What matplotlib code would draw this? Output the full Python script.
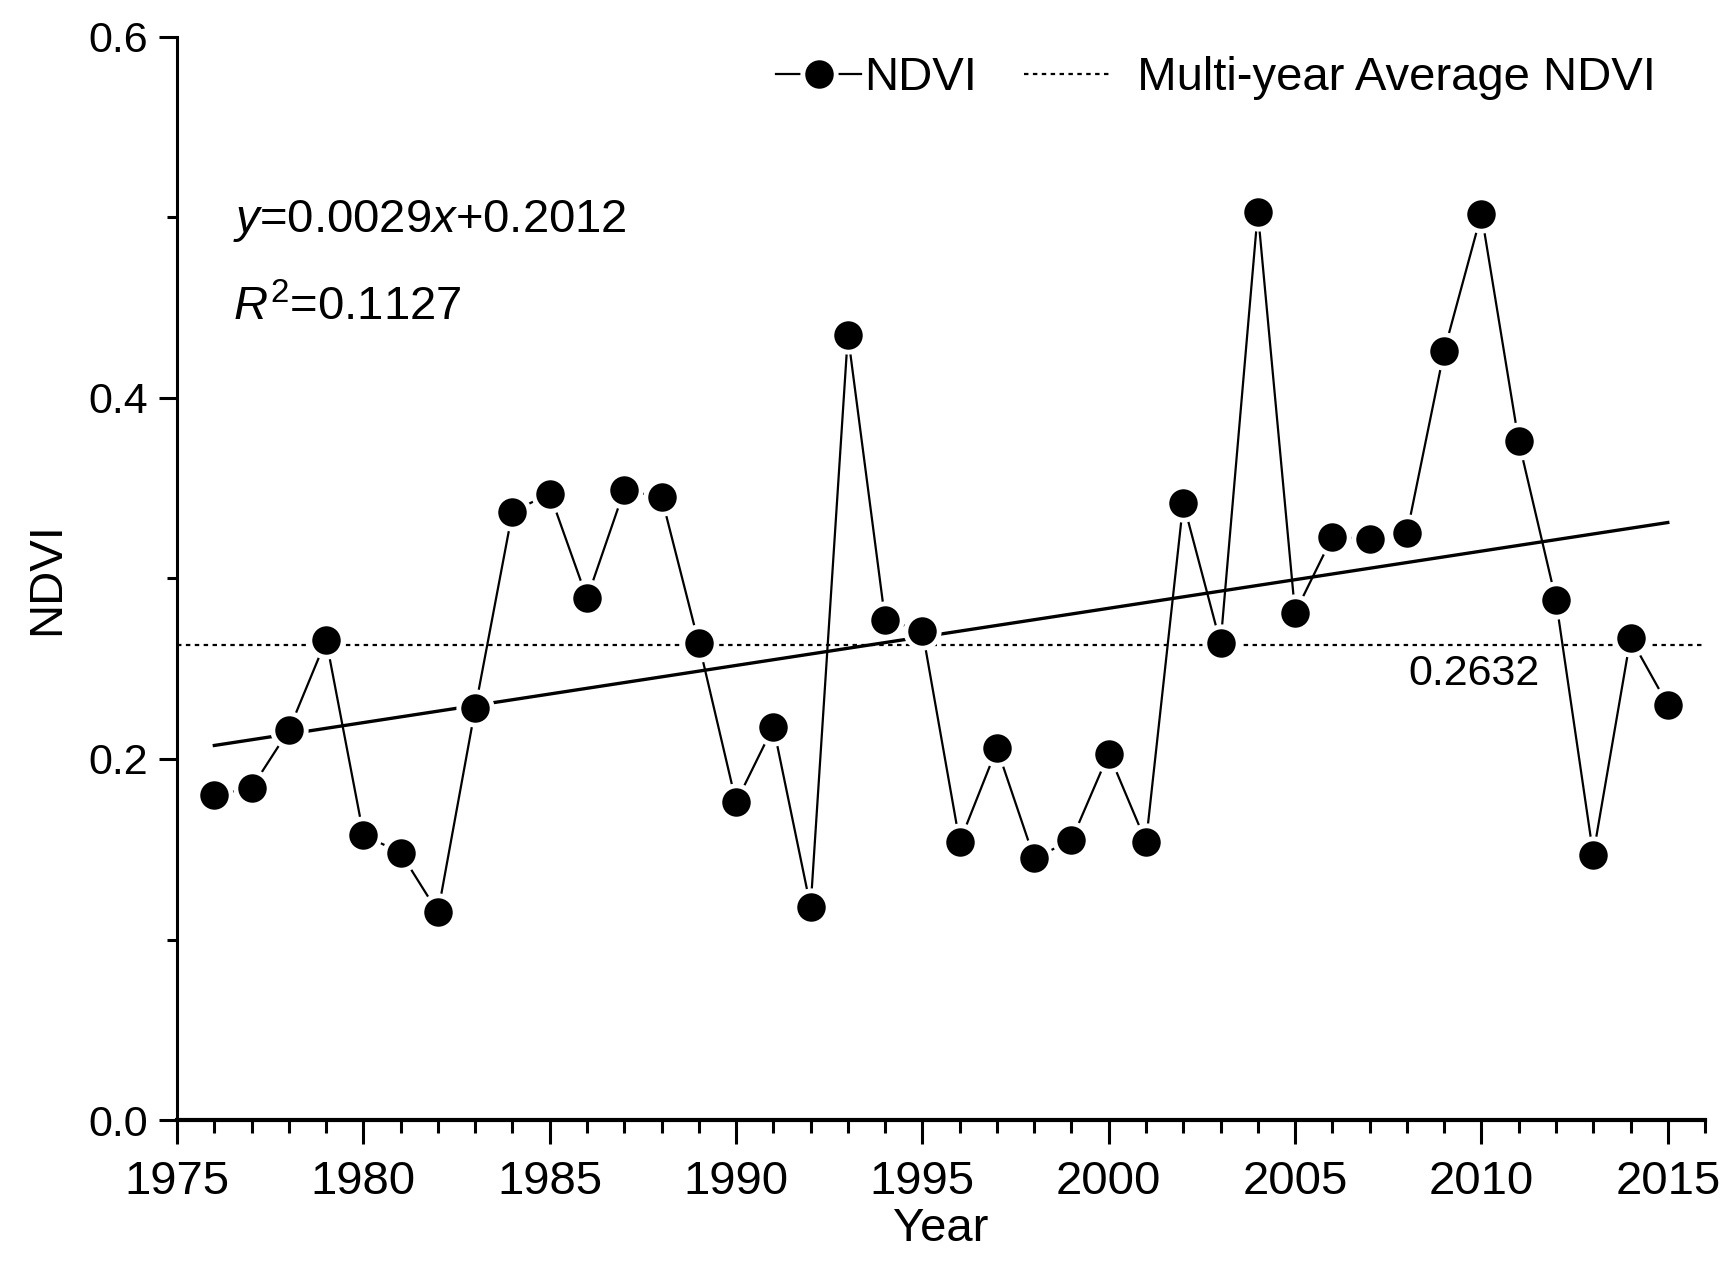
import numpy as np
import matplotlib
matplotlib.use("Agg")
import matplotlib.pyplot as plt

plt.rcParams['font.family'] = ['Liberation Sans', 'DejaVu Sans']
plt.rcParams['mathtext.fontset'] = 'custom'
plt.rcParams['mathtext.rm'] = 'Liberation Sans'
plt.rcParams['mathtext.it'] = 'Liberation Sans:italic'

years = list(range(1976, 2016))
ndvi = [0.180, 0.184, 0.216, 0.266, 0.158, 0.148, 0.115, 0.228, 0.337, 0.347,
        0.289, 0.349, 0.345, 0.264, 0.176, 0.218, 0.118, 0.435, 0.277, 0.271,
        0.154, 0.206, 0.145, 0.155, 0.203, 0.154, 0.342, 0.264, 0.503, 0.281,
        0.323, 0.322, 0.325, 0.426, 0.502, 0.376, 0.288, 0.147, 0.267, 0.230]
mean_ndvi = 0.2632
# fitted trend as drawn in the original (value at first and last year)
trend_ends = [0.2075, 0.331]
eq_text = r'$\mathit{y}$=0.0029$\mathit{x}$+0.2012'
r2_text = r'$\mathit{R}^{2}$=0.1127'

fig = plt.figure(figsize=(17.31, 12.7), dpi=100)
ax = fig.add_axes([0.1023, 0.1181, 0.8827, 0.8528])

ax.plot(years, ndvi, color='black', lw=1.6, marker='o', ms=24,
        mfc='black', mec='white', mew=3.5, label='NDVI', zorder=3)

# a little space before the text, as in the original legend
ax.axhline(mean_ndvi, color='black', lw=1.6, ls=(0, (2, 2)),
           label='  Multi-year Average NDVI', zorder=1)

# linear trend
ax.plot([years[0], years[-1]], trend_ends, color='black', lw=2.4, zorder=2)

ax.text(1976.5, 0.492, eq_text, fontsize=34)
ax.text(1976.5, 0.443, r2_text, fontsize=34)
ax.text(2009.8, mean_ndvi - 0.005, '%.4f' % mean_ndvi, fontsize=31,
        ha='center', va='top')

ax.set_xlim(1975, 2016)
ax.set_ylim(0, 0.6)
ax.set_xticks(range(1975, 2016, 5))
ax.set_xticks(range(1975, 2017), minor=True)
ax.set_yticks([0.0, 0.2, 0.4, 0.6])
ax.set_yticks([0.1, 0.3, 0.5], minor=True)
ax.set_yticklabels(['0.0', '0.2', '0.4', '0.6'])

for s in ['top', 'right']:
    ax.spines[s].set_visible(False)
ax.spines['left'].set_linewidth(2.2)
ax.spines['bottom'].set_linewidth(3)

ax.tick_params(axis='x', which='major', length=17, width=2.2, labelsize=34, pad=12)
ax.tick_params(axis='x', which='minor', length=9, width=2.2)
ax.tick_params(axis='y', which='major', length=13, width=2.2, labelsize=31, pad=8)
ax.tick_params(axis='y', which='minor', length=7, width=2.2)

ax.set_xlabel('Year', fontsize=34, labelpad=2)
ax.set_ylabel('NDVI', fontsize=34, labelpad=14)

ax.legend(loc='center right', bbox_to_anchor=(0.968, 0.962), ncol=2,
          frameon=False, fontsize=34, handlelength=1.8, handletextpad=0.05,
          columnspacing=1.0, borderpad=0, borderaxespad=0)

fig.savefig('out.png', dpi=100)
